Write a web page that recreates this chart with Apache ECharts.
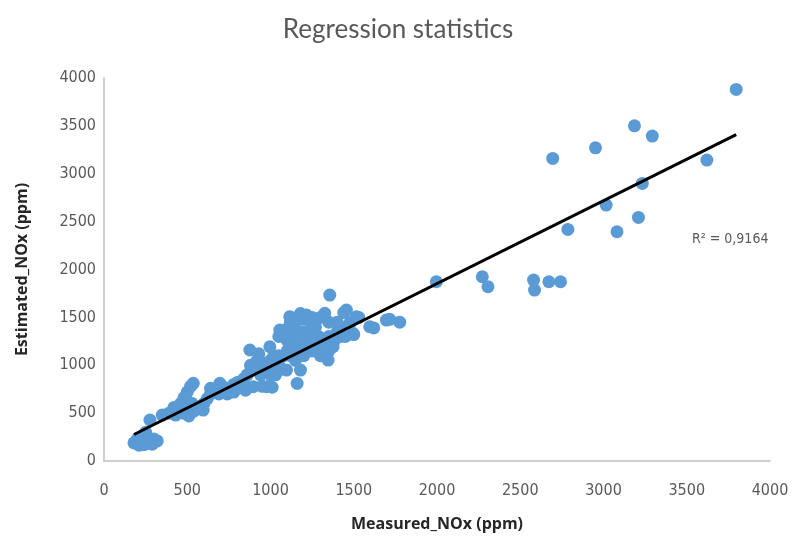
<!DOCTYPE html>
<html>
<head>
<meta charset="utf-8">
<title>Regression statistics</title>
<script src="https://cdn.jsdelivr.net/npm/echarts@6/dist/echarts.min.js"></script>
<style>
  html, body { margin: 0; padding: 0; background: #fff; }
  #chart { width: 796px; height: 549px; }
</style>
</head>
<body>
<div id="chart"></div>
<script>
// measured NOx (x) and estimated NOx (y), ppm
const measured = [
  3797, 3186, 3293, 2952, 2695, 3621, 3233, 3016, 3210, 3081, 2786,
  1996, 2272, 2306, 2580, 2586, 2672, 2742, 1716, 1776,
  180, 210, 240, 270, 300, 200, 230, 260, 290, 276, 250, 200, 230, 260, 280, 320, 300,
  390, 420, 450, 480, 510, 540, 570, 460, 530, 596, 350, 430, 560, 600, 620,
  480, 500, 520, 536, 500,
  640, 696, 720, 760, 800, 690, 740, 850, 820, 780, 640, 700, 800, 840, 780,
  860, 876, 930, 960, 996, 896, 976, 1030, 950, 1010, 900, 880, 940,
  1050, 1100, 1140, 1190, 1160, 1240, 1100, 1150, 1210, 1270, 1056, 1130, 1200, 1290, 1080, 1116, 1216,
  1096, 1150, 1200, 1250, 1300, 1180, 1160, 1050, 1000,
  1000, 1050, 1100, 1150, 1200, 1250, 1300, 1050, 1120, 1180, 1230, 1170, 1080, 1120, 1000, 950, 1020, 920,
  1260, 1320, 1280, 1350, 1380, 1420, 1480, 1420, 1440, 1350, 1300, 1250, 1180,
  1356, 1326, 1400, 1456, 1516, 1496, 1530, 1400, 1350, 1450, 1376, 1346, 1500, 1596, 1696, 1620
];
const estimated = [
  3881, 3501, 3393, 3271, 3160, 3143, 2899, 2673, 2544, 2394, 2419,
  1872, 1924, 1820, 1890, 1785, 1872, 1872, 1480, 1450,
  190, 165, 170, 185, 200, 230, 215, 240, 175, 428, 300, 200, 190, 200, 220, 210, 230,
  500, 560, 520, 500, 470, 520, 550, 600, 600, 532, 480, 480, 560, 600, 650,
  660, 720, 780, 811, 620,
  760, 811, 770, 740, 760, 700, 700, 740, 800, 720, 700, 730, 820, 860, 800,
  900, 1159, 1120, 1020, 1193, 776, 776, 900, 780, 770, 960, 1000, 900,
  1300, 1380, 1420, 1480, 1500, 1460, 1260, 1310, 1350, 1400, 1368, 1200, 1250, 1300, 1100, 1507, 1524,
  950, 1050, 1100, 1150, 1100, 950, 810, 1000, 900,
  1050, 1100, 1150, 1180, 1200, 1250, 1250, 950, 1100, 1150, 1300, 1350, 1350, 1450, 1000, 950, 1100, 1050,
  1200, 1250, 1150, 1150, 1250, 1300, 1450, 1400, 1550, 1450, 1500, 1500, 1540,
  1733, 1542, 1450, 1577, 1507, 1333, 1500, 1350, 1300, 1300, 1193, 1054, 1320, 1402, 1472, 1390
];

// linear trendline as drawn in the picture
const trendSlope = 0.866;
const trendIntercept = 121;
const r2Text = 'R² = 0,9164';

const xTicks = { min: 0, max: 4000, interval: 500 };
const yTicks = { min: 0, max: 4000, interval: 500 };

const points = measured.map((x, i) => [x, estimated[i]]);
const xMin = Math.min(...measured);
const xMax = Math.max(...measured);
const trend = [
  [xMin, trendSlope * xMin + trendIntercept],
  [xMax, trendSlope * xMax + trendIntercept]
];

const labelFont = "'Liberation Sans Narrow', 'DejaVu Sans Condensed', sans-serif";
const boldFont = "'Open Sans', 'Liberation Sans', sans-serif";

const chart = echarts.init(document.getElementById('chart'));
chart.setOption({
  animation: false,
  backgroundColor: '#fff',
  title: {
    text: 'Regression statistics',
    left: 'center',
    top: 12,
    textStyle: {
      fontFamily: 'Lato, sans-serif',
      fontSize: 26,
      fontWeight: 'normal',
      color: '#595959'
    }
  },
  grid: { left: 104, right: 26, top: 78, bottom: 88 },
  xAxis: {
    type: 'value',
    min: xTicks.min, max: xTicks.max, interval: xTicks.interval,
    name: 'Measured_NOx (ppm)',
    nameLocation: 'middle',
    nameGap: 55,
    nameTextStyle: { fontFamily: boldFont, fontSize: 16, fontWeight: 'bold', color: '#262626' },
    axisLine: { show: true, lineStyle: { color: '#bfbfbf', width: 1.5 } },
    axisTick: { show: false },
    splitLine: { show: false },
    axisLabel: { margin: 22, fontFamily: labelFont, fontSize: 16, color: '#595959', formatter: v => String(v) }
  },
  yAxis: {
    type: 'value',
    min: yTicks.min, max: yTicks.max, interval: yTicks.interval,
    name: 'Estimated_NOx (ppm)',
    nameLocation: 'middle',
    nameGap: 74,
    nameTextStyle: { fontFamily: boldFont, fontSize: 16, fontWeight: 'bold', color: '#262626' },
    axisLine: { show: true, lineStyle: { color: '#bfbfbf', width: 1.5 } },
    axisTick: { show: false },
    splitLine: { show: false },
    axisLabel: { margin: 8, fontFamily: labelFont, fontSize: 16, color: '#595959', formatter: v => String(v) }
  },
  graphic: [{
    type: 'text',
    left: 692,
    top: 232,
    style: { text: r2Text, font: "14px 'Liberation Sans Narrow', 'DejaVu Sans Condensed', sans-serif", fill: '#595959' }
  }],
  series: [
    {
      type: 'scatter',
      data: points,
      symbolSize: 13,
      itemStyle: { color: '#5b9bd5', opacity: 1 }
    },
    {
      type: 'line',
      data: trend,
      symbol: 'none',
      lineStyle: { color: '#000', width: 3 },
      z: 3
    }
  ]
});
</script>
</body>
</html>
